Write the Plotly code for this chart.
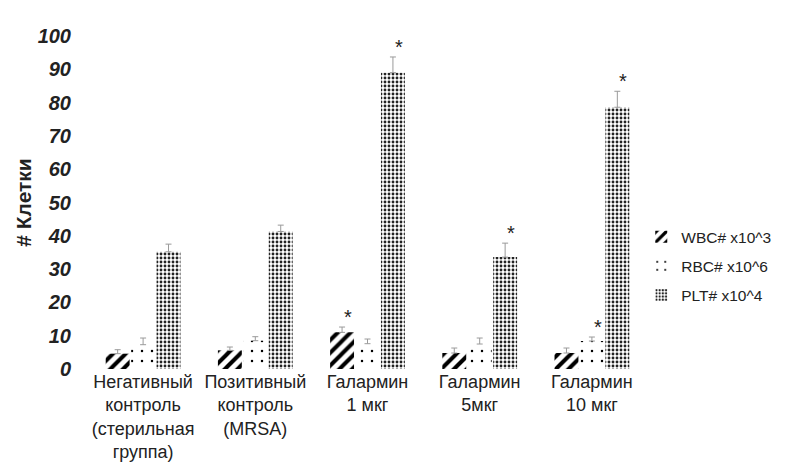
import plotly.graph_objects as go

categories = [
    "Негативный<br>контроль<br>(стерильная<br>группа)",
    "Позитивный<br>контроль<br>(MRSA)",
    "Галармин<br>1 мкг",
    "Галармин<br>5мкг",
    "Галармин<br>10 мкг",
]
series_names = ["WBC# x10^3", "RBC# x10^6", "PLT# x10^4"]
wbc = [4.6, 5.6, 11.0, 4.8, 4.8]
rbc = [7.3, 8.5, 7.6, 7.5, 8.4]
plt_vals = [35.2, 41.3, 89.0, 33.6, 78.6]
wbc_err = [1.2, 1.0, 1.6, 1.5, 1.5]
rbc_err = [2.0, 1.2, 1.4, 1.8, 1.2]
plt_err = [2.3, 1.9, 4.7, 4.2, 4.8]
# significance markers: (series index, category index)
sig = [(0, 2), (2, 2), (2, 3), (1, 4), (2, 4)]
y_ticks = [0, 10, 20, 30, 40, 50, 60, 70, 80, 90, 100]

values = [wbc, rbc, plt_vals]
errors = [wbc_err, rbc_err, plt_err]
patterns = [
    dict(shape="/", fgcolor="black", bgcolor="white", size=9, solidity=0.45, fillmode="replace"),
    dict(shape=".", fgcolor="black", bgcolor="white", size=10, solidity=0.05, fillmode="replace"),
    dict(shape=".", fgcolor="#222", bgcolor="white", size=4, solidity=0.4, fillmode="replace"),
]

fig = go.Figure()
for i, (name, v, e, p) in enumerate(zip(series_names, values, errors, patterns)):
    fig.add_trace(go.Bar(
        x=categories, y=v, name=name, legendgroup=f"g{i}",
        marker=dict(color="white", pattern=p, line=dict(width=0)),
        error_y=dict(type="data", symmetric=False, array=e, arrayminus=[0] * len(e),
                     color="#9a9a9a", thickness=1, width=3),
    ))

# page body has an 8px margin, so the figure is 8px smaller than the window
W, H = 777, 456
ml, mr, mt, mb = 79, 137, 28, 95
bargap = 0.32
bw = (1 - bargap) / 3
cat_px = (W - ml - mr) / len(categories)
for si, ci in sig:
    top = values[si][ci] + errors[si][ci]
    fig.add_annotation(
        x=categories[ci], y=top, xref="x", yref="y",
        text="*", showarrow=False,
        xshift=(si - 1) * bw * cat_px + 6, yshift=10,
        font=dict(family="Liberation Sans, Arial", size=20, color="#222"),
    )

fig.update_layout(
    width=W, height=H,
    margin=dict(l=ml, r=mr, t=mt, b=mb, autoexpand=False),
    paper_bgcolor="white", plot_bgcolor="white",
    barmode="group", bargap=bargap, bargroupgap=0.06,
    showlegend=True,
    legend=dict(xref="container", yref="container", x=0.815, y=0.434,
                xanchor="left", yanchor="middle",
                font=dict(family="Liberation Sans, Arial", size=15.5, color="#222"),
                tracegroupgap=6, itemwidth=30),
    xaxis=dict(showline=False, ticks="", range=[-0.5, 4.5], automargin=False,
               tickfont=dict(family="Liberation Sans Narrow, Arial Narrow, Liberation Sans", size=18, color="#222")),
    yaxis=dict(range=[0, 100], tickvals=y_ticks, showgrid=False, zeroline=False, showline=False,
               ticks="", ticklabelstandoff=15, automargin=False,
               tickfont=dict(family="Liberation Sans, Arial", size=20, color="#222", weight="bold", style="italic"),
               title=dict(text="# Клетки", standoff=0,
                          font=dict(family="Liberation Sans, Arial", size=21, color="#222", weight="bold"))),
)

fig.write_html("out.html")
